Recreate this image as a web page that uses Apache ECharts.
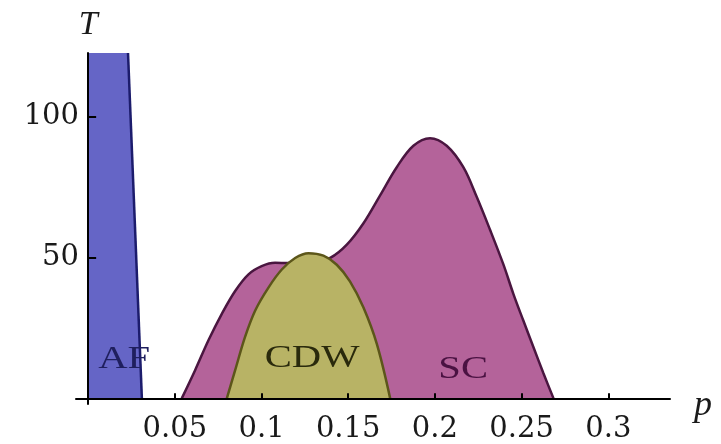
<!DOCTYPE html>
<html><head><meta charset="utf-8">
<script src="https://cdn.jsdelivr.net/npm/echarts@6/dist/echarts.min.js"></script>
<style>html,body{margin:0;padding:0;background:#fff}#c{width:721px;height:444px}</style>
</head><body><div id="c"></div>
<script>
// AF region (p, T)
const afFill = [[0, 122.5], [0.023, 122.5], [0.031, 0]];
const afEdge = [[0.023, 122.5], [0.031, 0]];
// SC dome (p, T)
const scCurve = [
  [0.054, 0], [0.0617, 10], [0.0694, 20.6], [0.0771, 30], [0.0848, 38.1],
  [0.0925, 44], [0.1001, 46.9], [0.1078, 48.1], [0.1155, 48.0], [0.123, 48.0],
  [0.131, 48.6], [0.1396, 49.8], [0.1492, 54.5], [0.1588, 62.1], [0.1684, 72],
  [0.178, 82], [0.1876, 89.6], [0.1972, 92.3], [0.2068, 89.6], [0.2164, 82],
  [0.2241, 71.5], [0.2318, 59.8], [0.2395, 47.5], [0.2453, 37], [0.251, 27.6],
  [0.2568, 18.2], [0.2626, 8.9], [0.2684, 0]
];
// CDW dome (p, T)
const cdwCurve = [
  [0.080, 0], [0.0848, 10], [0.0905, 21.8], [0.0963, 31.1], [0.104, 39.3],
  [0.1117, 45.7], [0.1194, 49.8], [0.1271, 51.5], [0.1357, 50.6], [0.1434, 47.4],
  [0.151, 41.5], [0.1588, 32.2], [0.1665, 19.3], [0.1742, 0]
];
// Region labels
const regionNames = ['AF', 'CDW', 'SC'];
const regionPos = [[0.0208, 13.6], [0.1292, 14.0], [0.2163, 10.1]];
const regionColors = ['#1f1f5e', '#2a2a0c', '#4a1242'];
// Tick labels
const xTicks = [0.05, 0.1, 0.15, 0.2, 0.25, 0.3];
const yTicks = [50, 100];

const chart = echarts.init(document.getElementById('c'));
const axisFont = {fontFamily: 'DejaVu Serif', fontSize: 29, color: '#1a1a1a'};
chart.setOption({
  animation: false,
  grid: {left: 76, top: 53, width: 594, height: 355, containLabel: false},
  xAxis: {
    type: 'value', min: -0.007, max: 0.3356, z: 10,
    name: '{n|p}', nameLocation: 'end', nameGap: 24,
    nameTextStyle: {verticalAlign: 'middle', rich: {n: {fontFamily: 'Liberation Serif', fontStyle: 'italic', fontSize: 36, color: '#1a1a1a', padding: [14, 0, 0, 0]}}},
    axisLine: {onZero: true, lineStyle: {color: '#000', width: 2}},
    axisTick: {show: true, inside: true, length: 5, lineStyle: {color: '#000', width: 2}, customValues: xTicks},
    axisLabel: Object.assign({margin: 11, customValues: xTicks, formatter: v => String(v)}, axisFont),
    splitLine: {show: false}
  },
  yAxis: {
    type: 'value', min: -2, max: 122.5, z: 10,
    name: 'T', nameLocation: 'end', nameGap: 11,
    nameTextStyle: {fontFamily: 'Liberation Serif', fontStyle: 'italic', fontSize: 34, color: '#1a1a1a', align: 'center'},
    axisLine: {onZero: true, lineStyle: {color: '#000', width: 2}},
    axisTick: {show: true, inside: true, length: 8, lineStyle: {color: '#000', width: 2}, customValues: yTicks},
    axisLabel: Object.assign({margin: -3, customValues: yTicks}, axisFont),
    splitLine: {show: false}
  },
  series: [
    {type: 'line', data: afFill, symbol: 'none', lineStyle: {width: 0}, areaStyle: {color: '#6565c6', opacity: 1}, z: 2},
    {type: 'line', data: afEdge, symbol: 'none', lineStyle: {width: 2.5, color: '#1c1c6c'}, z: 3},
    {type: 'line', data: scCurve, smooth: 0.35, symbol: 'none', lineStyle: {width: 2.5, color: '#4a1640'}, areaStyle: {color: '#b4639a', opacity: 1}, z: 3},
    {type: 'line', data: cdwCurve, smooth: 0.35, symbol: 'none', lineStyle: {width: 2.5, color: '#5c561a'}, areaStyle: {color: '#b8b365', opacity: 1}, z: 4},
    {
      type: 'custom', z: 6, data: regionPos,
      renderItem: function (params, api) {
        const pt = api.coord([api.value(0), api.value(1)]);
        return {
          type: 'text', x: pt[0], y: pt[1], scaleX: 1.27, scaleY: 1,
          style: {text: regionNames[params.dataIndex], fontFamily: 'Liberation Serif', fontSize: 32,
            fill: regionColors[params.dataIndex], align: 'center', verticalAlign: 'middle'}
        };
      }
    }
  ]
});
</script></body></html>
